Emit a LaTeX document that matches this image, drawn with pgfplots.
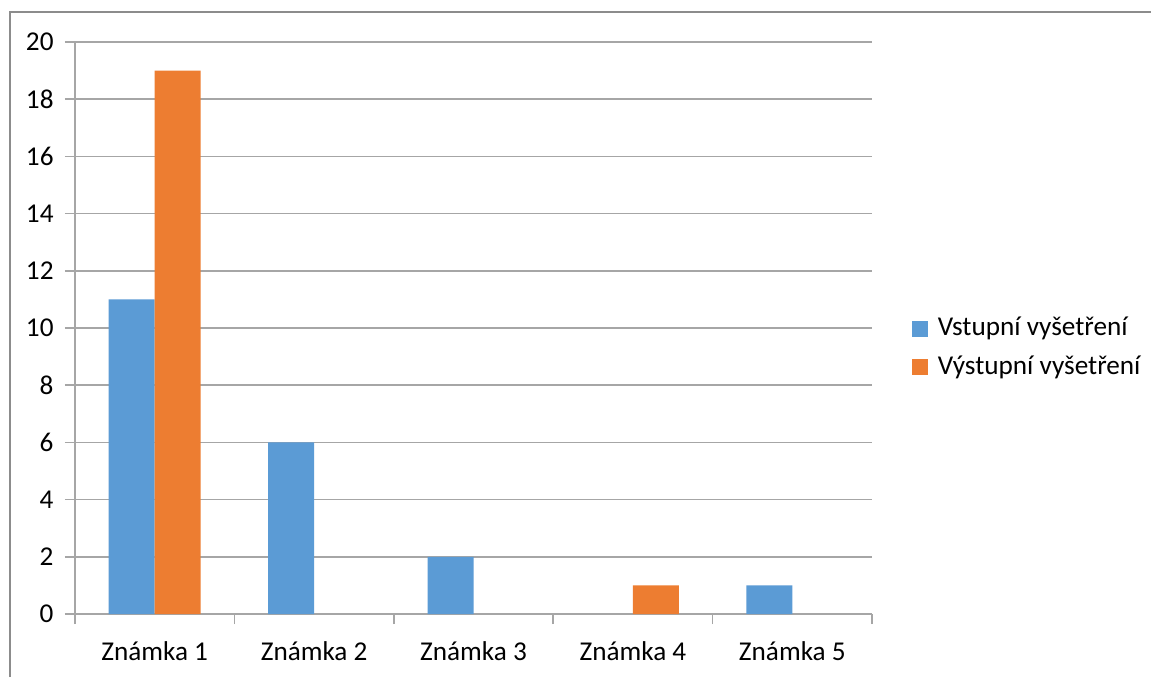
\documentclass[border=0pt]{standalone}
\usepackage{fontspec}
\setmainfont{Carlito}
\usepackage{pgfplots}
\pgfplotsset{compat=1.18}
\definecolor{cblue}{HTML}{5B9BD5}
\definecolor{corange}{HTML}{ED7D31}
\definecolor{cgrid}{HTML}{A6A6A6}
\definecolor{cframe}{HTML}{8C8C8C}
\begin{document}
\fontsize{13.6pt}{16pt}\selectfont
\begin{tikzpicture}[x=1pt,y=1pt]
\path[use as bounding box] (0,0) rectangle (575.5,338.5);
\fill[white] (0,0) rectangle (575.5,338.5);
\draw[cframe,line width=0.9pt] (5,0) -- (5,332.5) -- (575.5,332.5);
\begin{axis}[
  at={(37.5pt,31.5pt)}, anchor=south west,
  scale only axis, width=398.5pt, height=286pt,
  ybar=0pt, bar width=23pt,
  xmin=-0.5, xmax=4.5, ymin=0, ymax=20,
  ytick={0,2,...,20},
  xtick={0,1,2,3,4},
  xticklabels={Známka 1,Známka 2,Známka 3,Známka 4,Známka 5},
  minor xtick={-0.5,0.5,1.5,2.5,3.5,4.5},
  major x tick style={draw=none},
  minor tick length=5pt,
  major tick length=5pt,
  tick align=outside,
  tick style={cgrid,line width=0.8pt},
  axis x line*=bottom, axis y line*=left,
  axis line style={cgrid,line width=0.8pt,-},
  ymajorgrids, grid style={cgrid,line width=0.8pt},
  xticklabel style={yshift=-4pt},
  yticklabel style={xshift=-1pt},
  /pgf/number format/assume math mode=true,
  ticklabel style={font=\fontsize{13.6pt}{16pt}\selectfont},
  legend style={at={(1.042,0.465)}, anchor=west, draw=none, fill=none,
    font=\fontsize{13.6pt}{16pt}\selectfont, row sep=4pt,
    nodes={inner xsep=5pt}},
  legend cell align=left,
  legend image code/.code={\fill[#1] (0pt,-4pt) rectangle (8pt,4pt);},
]
\addplot[fill=cblue, draw=none] coordinates {(0,11) (1,6) (2,2) (4,1)};
\addplot[fill=corange, draw=none] coordinates {(0,19) (3,1)};
\legend{Vstupní vyšetření, Výstupní vyšetření}
\end{axis}
\end{tikzpicture}
\end{document}
